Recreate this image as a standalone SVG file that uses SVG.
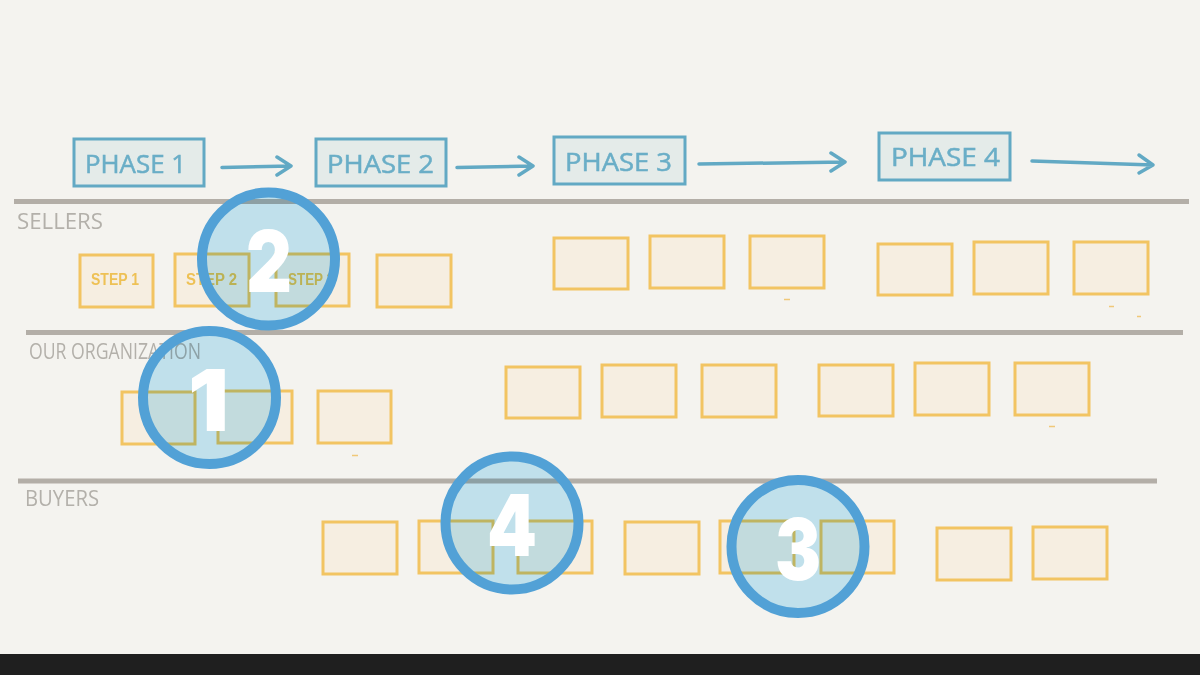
<svg xmlns="http://www.w3.org/2000/svg" width="1200" height="675" viewBox="0 0 1200 675">
<style>
.phase rect{fill:#e4ebe9;stroke:#62a9c4;stroke-width:3}
.phase text{font-family:"Open Sans","DejaVu Sans",sans-serif;font-weight:400;font-size:25px;fill:#6aaec7;stroke:#6aaec7;stroke-width:.5}
.box rect{fill:#f6eee1;stroke:#f2c462;stroke-width:3}
.box text{font-family:"Liberation Sans",sans-serif;font-weight:700;font-size:16px;fill:#eec155}
.rule{stroke:#b3aea7;stroke-width:5;fill:none}
.lane{font-family:"Open Sans","DejaVu Sans",sans-serif;font-weight:400;font-size:21px;fill:#b3b0aa}
.arrow{stroke:#62a9c4;stroke-width:3.500;fill:none;stroke-linecap:round;stroke-linejoin:round}
.speck{stroke:#f0c878;stroke-width:1.500;fill:none}
.badge circle{fill:#c9ebfb;mix-blend-mode:multiply}
.badge .ring{fill:none;stroke:#52a1d6;stroke-width:10;mix-blend-mode:normal}
.badge text{font-family:"Inter","Lato",sans-serif;font-weight:900;font-size:85px;fill:#fff}
</style>
<rect width="1200" height="675" fill="#f4f3ef"/>
<g id="lanes">
<path class="rule" d="M14 201.500H1189"/>
<path class="rule" d="M26 332.500H1183"/>
<path class="rule" d="M18 481H1157"/>
<text class="lane" x="17" y="229" textLength="86" lengthAdjust="spacingAndGlyphs">SELLERS</text>
<text class="lane" x="29" y="359" textLength="172" lengthAdjust="spacingAndGlyphs">OUR ORGANIZATION</text>
<text class="lane" x="25" y="506" textLength="74" lengthAdjust="spacingAndGlyphs">BUYERS</text>
</g>
<g id="connectors">
<path class="arrow" d="M222 167.500L291 166M277 157L291 166L277 175"/>
<path class="arrow" d="M457 167.500L533 166M519 157L533 166L519 175"/>
<path class="arrow" d="M699 164L845 162M831 153L845 162L831 171"/>
<path class="arrow" d="M1032 161L1153 165M1139 155L1153 165L1139 173"/>
</g>
<g id="phase-1" class="phase"><rect x="74" y="139" width="130" height="47"/><text x="85" y="173" textLength="101" lengthAdjust="spacingAndGlyphs">PHASE 1</text></g>
<g id="phase-2" class="phase"><rect x="316" y="139" width="130" height="47"/><text x="327" y="173" textLength="107" lengthAdjust="spacingAndGlyphs">PHASE 2</text></g>
<g id="phase-3" class="phase"><rect x="554" y="137" width="131" height="47"/><text x="565" y="171" textLength="107" lengthAdjust="spacingAndGlyphs">PHASE 3</text></g>
<g id="phase-4" class="phase"><rect x="879" y="133" width="131" height="47"/><text x="891" y="166" textLength="109" lengthAdjust="spacingAndGlyphs">PHASE 4</text></g>
<g id="seller-1" class="box"><rect x="80" y="255" width="73" height="52"/><text x="91" y="285" textLength="48" lengthAdjust="spacingAndGlyphs">STEP 1</text></g>
<g id="seller-2" class="box"><rect x="175" y="254" width="74" height="52"/><text x="186" y="285" textLength="51" lengthAdjust="spacingAndGlyphs">STEP 2</text></g>
<g id="seller-3" class="box"><rect x="276" y="254" width="73" height="52"/><text x="288" y="285" textLength="46" lengthAdjust="spacingAndGlyphs">STEP 3</text></g>
<g id="seller-4" class="box"><rect x="377" y="255" width="74" height="52"/></g>
<g id="seller-5" class="box"><rect x="554" y="238" width="74" height="51"/></g>
<g id="seller-6" class="box"><rect x="650" y="236" width="74" height="52"/></g>
<g id="seller-7" class="box"><rect x="750" y="236" width="74" height="52"/></g>
<g id="seller-8" class="box"><rect x="878" y="244" width="74" height="51"/></g>
<g id="seller-9" class="box"><rect x="974" y="242" width="74" height="52"/></g>
<g id="seller-10" class="box"><rect x="1074" y="242" width="74" height="52"/></g>
<g id="org-1" class="box"><rect x="122" y="392" width="73" height="52"/></g>
<g id="org-2" class="box"><rect x="218" y="391" width="74" height="52"/></g>
<g id="org-3" class="box"><rect x="318" y="391" width="73" height="52"/></g>
<g id="org-4" class="box"><rect x="506" y="367" width="74" height="51"/></g>
<g id="org-5" class="box"><rect x="602" y="365" width="74" height="52"/></g>
<g id="org-6" class="box"><rect x="702" y="365" width="74" height="52"/></g>
<g id="org-7" class="box"><rect x="819" y="365" width="74" height="51"/></g>
<g id="org-8" class="box"><rect x="915" y="363" width="74" height="52"/></g>
<g id="org-9" class="box"><rect x="1015" y="363" width="74" height="52"/></g>
<g id="buyer-1" class="box"><rect x="323" y="522" width="74" height="52"/></g>
<g id="buyer-2" class="box"><rect x="419" y="521" width="74" height="52"/></g>
<g id="buyer-3" class="box"><rect x="518" y="521" width="74" height="52"/></g>
<g id="buyer-4" class="box"><rect x="625" y="522" width="74" height="52"/></g>
<g id="buyer-5" class="box"><rect x="720" y="521" width="74" height="52"/></g>
<g id="buyer-6" class="box"><rect x="821" y="521" width="73" height="52"/></g>
<g id="buyer-7" class="box"><rect x="937" y="528" width="74" height="52"/></g>
<g id="buyer-8" class="box"><rect x="1033" y="527" width="74" height="52"/></g>
<g id="specks">
<path class="speck" d="M352 455.500h6M784 299.500h6M1109 306.500h5M1137 316.500h4M1049 426.500h6"/>
</g>
<g id="badge-1" class="badge"><circle cx="209.500" cy="397.500" r="66.500"/><circle class="ring" cx="209.500" cy="397.500" r="66.500"/><text x="188" y="431" textLength="41" lengthAdjust="spacingAndGlyphs">1</text></g>
<g id="badge-2" class="badge"><circle cx="268.500" cy="259" r="66.500"/><circle class="ring" cx="268.500" cy="259" r="66.500"/><text x="246" y="292" textLength="46" lengthAdjust="spacingAndGlyphs">2</text></g>
<g id="badge-3" class="badge"><circle cx="798" cy="546.500" r="66.500"/><circle class="ring" cx="798" cy="546.500" r="66.500"/><text x="775" y="580" textLength="46" lengthAdjust="spacingAndGlyphs">3</text></g>
<g id="badge-4" class="badge"><circle cx="512" cy="523" r="66.500"/><circle class="ring" cx="512" cy="523" r="66.500"/><text x="487" y="556" textLength="50" lengthAdjust="spacingAndGlyphs">4</text></g>
<rect y="654" width="1200" height="21" fill="#1f1f1f"/>
</svg>
